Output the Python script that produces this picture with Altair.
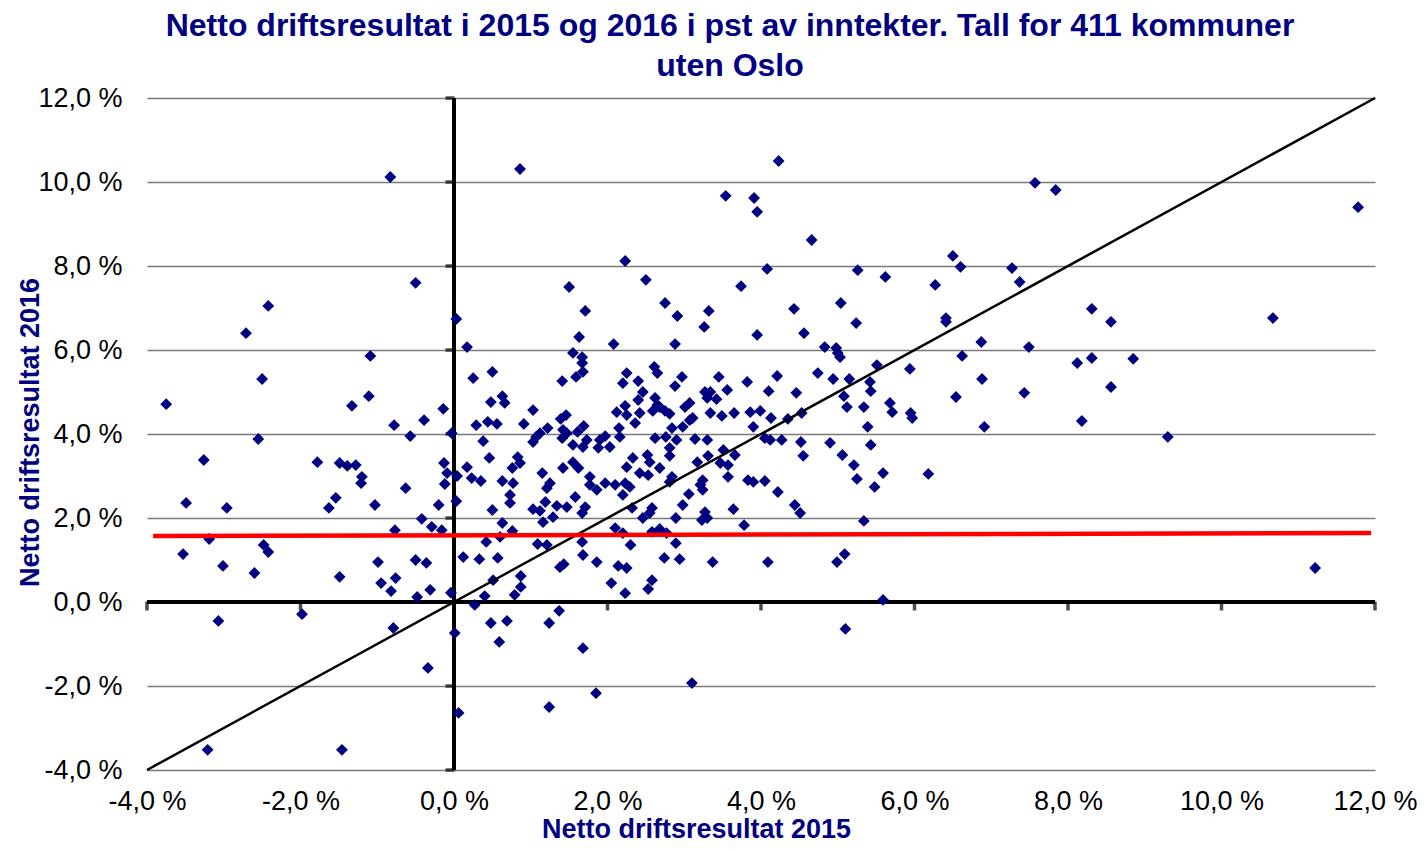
import altair as alt
import pandas as pd

# (Netto driftsresultat 2015, Netto driftsresultat 2016) in percent
left_pts = [(-3.75,4.71),(-3.49,2.36),(-3.53,1.14),(-3.26,3.38),(-3.19,1.5),(-3.07,-0.45),(-3.01,0.86),(-2.96,2.24),(-3.21,-3.52),(-2.71,6.4),
(-2.6,0.69),(-2.55,3.88),(-2.5,5.31),(-2.42,7.05),(-2.48,1.36),(-2.42,1.19),(-1.98,-0.29),(-1.78,3.33),(-1.63,2.24),(-1.54,2.48),
(-1.49,3.31),(-1.39,3.24),(-1.33,4.67),(-1.28,3.26),(-1.21,2.83),(-1.2,2.98),(-1.46,-3.52),(-1.49,0.6),(-1.11,4.9),(-1.09,5.86),
(-1.03,2.31),(-0.99,0.95),(-0.95,0.45),(-0.82,0.26),(-0.83,10.12),(-0.79,-0.62),(-0.78,4.21),(-0.77,1.71),(-0.76,0.57),(-0.63,2.71),
(-0.57,3.95),(-0.5,7.6),(-0.5,1.0),(-0.48,0.12),(-0.36,0.93),(-0.39,4.33),(-0.42,1.98),(-0.34,-1.57),(-0.31,0.29),(-0.29,1.79),
(-0.2,2.31),(-0.16,1.71),(-0.14,4.6),(-0.13,3.31),(-0.09,3.07),(-0.12,2.81),(-0.03,4.02),(-0.04,0.22)]

top_pts = [(0.03,6.74),(0.86,10.31),(2.23,8.12),(1.5,7.5),(1.71,6.93),(2.5,7.67),(2.75,7.12),(2.91,6.81),
(4.23,10.5),(3.54,9.67),(3.91,9.62),(3.95,9.29),(4.66,8.62),(4.08,7.93),(5.26,7.9),(5.62,7.74),(3.74,7.52),(6.5,8.24),(6.6,7.98),(6.27,7.55),
(3.32,6.93),(4.43,6.98),(5.04,7.12),(3.26,6.55),(5.24,6.64),(6.41,6.76),(6.41,6.67),(3.95,6.36),(4.56,6.4)]

right_pts = [(7.27,7.95),(7.37,7.62),(8.31,6.98),(8.56,6.67),(10.67,6.76),(6.87,6.19),(6.62,5.86),(7.49,6.07),(5.94,5.55),(8.12,5.69),
(8.31,5.81),(8.85,5.79),(6.88,5.31),(6.54,4.88),(7.43,4.98),(8.56,5.12),(5.95,4.5),(5.97,4.38),(6.91,4.17),(8.18,4.31),
(9.3,3.93),(6.18,3.05),(11.22,0.81),(11.78,9.4),(7.57,9.98),(7.84,9.81)]

mid_right_pts = [(4.83,6.07),(4.98,6.05),(5.0,5.93),(5.03,5.83),(5.51,5.64),(4.21,5.38),(4.74,5.45),(4.94,5.31),(5.15,5.31),(5.42,5.24),
(5.43,5.02),(4.1,5.02),(4.46,4.98),(5.08,4.9),(5.12,4.64),(5.34,4.64),(5.68,4.74),(5.71,4.52),(3.99,4.55),(3.86,4.52),
(4.13,4.38),(4.35,4.36),(4.53,4.5),(3.9,4.17),(5.39,4.17),(4.05,3.9),(4.12,3.86),(4.27,3.86),(4.52,3.81),(4.9,3.79),
(5.43,3.74),(4.55,3.48),(5.06,3.5),(5.21,3.26),
(3.9,2.86),(4.05,2.88),(4.22,2.62),(4.44,2.31),(4.51,2.12),(5.25,2.93),(5.48,2.74),(5.59,3.07),(5.34,1.93),(4.09,0.95),
(4.99,0.95),(5.09,1.14),(5.59,0.05)]

mid_pts = [(2.08,6.14),(2.88,6.14),(2.25,5.45),(2.61,5.6),(2.65,5.45),(2.4,5.26),(2.2,5.21),(2.97,5.36),(2.88,5.14),(3.45,5.36),
(3.82,5.24),(3.56,5.05),(3.27,5.0),(3.34,5.0),(3.3,4.86),(3.42,4.83),(2.46,5.0),(2.4,4.81),(2.62,4.86),(2.65,4.69),
(2.68,4.64),(3.07,4.74),(3.01,4.64),(2.23,4.67),(2.12,4.52),(2.25,4.45),(2.42,4.5),(2.59,4.55),(2.75,4.55),(2.81,4.48),
(3.34,4.5),(3.49,4.43),(3.65,4.5),(3.07,4.33),(3.11,4.38),(2.98,4.17),(2.36,4.26),(2.15,4.14),(2.16,3.93),(1.97,3.95),
(1.9,3.86),(2.03,3.69),(2.62,3.9),(2.76,3.93),(2.84,4.14),(2.9,3.86),(2.81,3.67),(2.81,3.48),(3.14,3.88),(3.3,3.86),
(3.51,3.62),(3.66,3.5),(2.33,3.43),(2.52,3.5),(2.55,3.33),(3.17,3.33),(3.31,3.48),(3.47,3.31),(3.57,3.26),(2.25,3.21),
(2.68,3.19),(2.42,3.07),(2.53,3.02)]

mid_left_pts = [(0.17,6.07),(1.63,6.31),(1.55,5.93),(1.67,5.83),(1.67,5.69),(1.68,5.48),(1.59,5.36),(1.41,5.26),(0.25,5.33),(0.5,5.48),
(0.48,4.76),(0.63,4.9),(0.66,4.74),(1.03,4.57),(0.29,4.21),(0.44,4.29),(0.56,4.24),(0.91,4.24),(0.38,3.83),(0.46,3.43),
(1.39,4.36),(1.46,4.45),(1.69,4.19),(1.22,4.14),(1.12,4.02),(1.07,3.93),(1.03,3.81),(1.42,4.1),(1.47,4.02),(1.41,3.9),
(1.61,4.05),(1.55,3.74),(1.68,3.69),(1.73,3.86),(1.88,3.67),(0.83,3.45),(0.86,3.31),(0.76,3.19),(0.17,3.21),(1.55,3.33),
(1.42,3.19),(1.62,3.19)]

low_left_pts = [(1.15,3.07),(0.04,3.0),(0.23,2.95),(0.35,2.88),(0.63,2.88),(0.77,2.83),(1.25,2.83),(1.21,2.71),(1.77,2.98),(1.77,2.79),
(1.86,2.67),(0.73,2.55),(0.73,2.36),(0.03,2.4),(0.5,2.19),(1.03,2.21),(1.12,2.17),(1.19,2.38),(1.34,2.29),(1.47,2.26),
(1.58,2.5),(1.71,2.26),(1.67,2.12),(1.29,2.02),(1.16,1.9),(0.63,1.88),(0.6,1.55),(0.76,1.69),(0.42,1.43),(1.09,1.38),
(1.21,1.36),(1.67,1.43),(1.68,1.12),(1.86,0.95),(0.12,1.07),(0.33,1.02),(0.57,1.05),(1.38,0.83),(1.43,0.9),(0.87,0.62),
(0.51,0.52),(0.87,0.36),(0.4,0.14),(0.79,0.17)]

low_mid_pts = [(1.97,2.83),(2.1,2.79),(2.23,2.83),(2.29,2.74),(2.2,2.55),(2.32,2.24),(2.46,2.0),(2.58,2.24),(2.55,2.12),(2.81,2.86),
(2.84,2.98),(3.06,2.57),(2.98,2.31),(2.89,2.0),(3.21,2.79),(3.24,2.9),(3.24,2.67),(3.27,2.14),(3.23,1.95),(3.3,2.0),
(3.57,2.98),(3.64,2.21),(3.83,2.9),(3.78,1.83),(2.1,1.76),(2.2,1.64),(2.58,1.67),(2.68,1.74),(2.77,1.64),(2.3,1.36),
(2.89,1.4),(2.74,1.05),(2.94,1.02),(3.37,0.95),(2.14,0.86),(2.25,0.81),(2.05,0.45),(2.58,0.52),(2.53,0.31),(2.23,0.21)]

negative_pts = [(0.27,-0.07),(0.48,-0.5),(0.69,-0.45),(0.59,-0.95),(1.24,-0.5),(1.37,-0.21),(1.68,-1.1),(0.01,-0.74),(0.06,-2.64),
(1.24,-2.5),(1.85,-2.17),(3.1,-1.93),(5.1,-0.64)]

axis_ticks = [-4, -2, 0, 2, 4, 6, 8, 10, 12]
diag_x = [-4, 12]
diag_y = [-4, 12]
red_x = [-3.92, 11.95]
red_y = [1.57, 1.64]

all_pts = (left_pts + top_pts + right_pts + mid_right_pts + mid_pts + mid_left_pts
           + low_left_pts + low_mid_pts + negative_pts)
df = pd.DataFrame(all_pts, columns=["x", "y"])

NAVY = "#000080"
FONT = "Liberation Sans"
xs = alt.Scale(domain=[-4, 12], nice=False, zero=False)
ys = alt.Scale(domain=[-4, 12], nice=False, zero=False)
label_expr = "(datum.value < 0 ? '-' : '') + replace(format(abs(datum.value), '.1f'), '.', ',') + ' %'"

x_axis = alt.Axis(values=axis_ticks, labelExpr=label_expr, domain=False, ticks=False, grid=False,
                  labelFlush=False, labelOverlap=False, labelBound=False,
                  labelFont=FONT, labelFontSize=27, labelColor="black", labelPadding=18,
                  title="Netto driftsresultat 2015", titleFont=FONT, titleFontSize=27,
                  titleFontWeight="bold", titleColor=NAVY, titleX=549, titleY=67,
                  titleBaseline="alphabetic", titleAlign="center")
y_axis = alt.Axis(values=axis_ticks, labelExpr=label_expr, domain=False, ticks=False, grid=True,
                  gridColor="#7a7a7a", gridWidth=1.3, labelFlush=False, labelOverlap=False, labelBound=False,
                  labelFont=FONT, labelFontSize=27, labelColor="black", labelPadding=25,
                  title="Netto driftsresultat 2016", titleFont=FONT, titleFontSize=27,
                  titleFontWeight="bold", titleColor=NAVY, titleX=-117, titleY=334,
                  titleAngle=270, titleBaseline="middle", titleAlign="center")


def X(field="x"):
    return alt.X(f"{field}:Q", scale=xs, axis=x_axis)


def Y(field="y"):
    return alt.Y(f"{field}:Q", scale=ys, axis=y_axis)


points = alt.Chart(df).mark_point(shape="diamond", filled=True, size=140, color=NAVY, opacity=1).encode(
    x=X(), y=Y())

hz = pd.DataFrame({"x": [axis_ticks[0]], "x2": [axis_ticks[-1]], "y": [0]})
h_axis = alt.Chart(hz).mark_rule(color="black", strokeWidth=4).encode(x=X(), x2="x2:Q", y=Y())
vz = pd.DataFrame({"x": [0], "y": [axis_ticks[0]], "y2": [axis_ticks[-1]]})
v_axis = alt.Chart(vz).mark_rule(color="black", strokeWidth=4).encode(x=X(), y=Y(), y2="y2:Q")

htick_df = pd.DataFrame({"x": axis_ticks, "y": [0] * len(axis_ticks)})
h_ticks = alt.Chart(htick_df).mark_tick(orient="vertical", size=9, thickness=3.5, color="black", yOffset=4).encode(
    x=X(), y=Y())
vtick_df = pd.DataFrame({"x": [0] * len(axis_ticks), "y": axis_ticks})
v_ticks = alt.Chart(vtick_df).mark_tick(orient="horizontal", size=9, thickness=3.5, color="black", xOffset=-4).encode(
    x=X(), y=Y())

diag = alt.Chart(pd.DataFrame({"x": diag_x, "y": diag_y})).mark_line(color="black", strokeWidth=2.5).encode(
    x=X(), y=Y())
red = alt.Chart(pd.DataFrame({"x": red_x, "y": red_y})).mark_line(color="#ff0000", strokeWidth=4.5).encode(
    x=X(), y=Y())

chart = alt.layer(h_axis, v_axis, h_ticks, v_ticks, points, diag, red).properties(
    width=1228, height=672,
    title=alt.TitleParams(
        text=["Netto driftsresultat i 2015 og 2016 i pst av inntekter. Tall for 411 kommuner", "uten Oslo"],
        font=FONT, fontSize=32, fontWeight="bold", color=NAVY, anchor="middle", frame="group",
        dx=-31, dy=49, offset=18, lineHeight=40, baseline="bottom"),
    autosize=alt.AutoSizeParams(type="none"),
    padding={"left": 139, "top": 90, "right": 42, "bottom": 73},
).configure_view(stroke=None)

chart.save("out.html", embed_options={"renderer": "svg", "actions": False})
